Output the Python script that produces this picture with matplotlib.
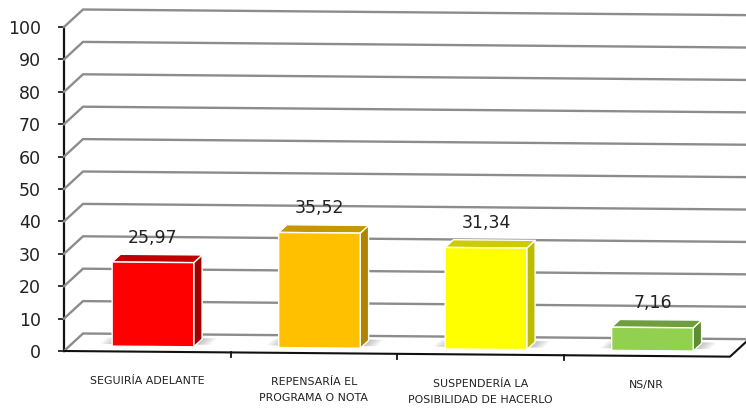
import numpy as np
import matplotlib
matplotlib.use("Agg")
import matplotlib.pyplot as plt
from matplotlib.patches import Polygon
from matplotlib.lines import Line2D
from matplotlib.transforms import IdentityTransform

# --- data -------------------------------------------------------------
categories = [
    "SEGUIRÍA ADELANTE",
    "REPENSARÍA EL\nPROGRAMA O NOTA",
    "SUSPENDERÍA LA\nPOSIBILIDAD DE HACERLO",
    "NS/NR",
]
values = [25.97, 35.52, 31.34, 7.16]
y_ticks = list(range(0, 101, 10))

front_colors = ["#FF0000", "#FFC000", "#FFFF00", "#92D050"]
top_colors = ["#C00000", "#C89600", "#CCCC00", "#6E9E3E"]
side_colors = ["#A00000", "#B08400", "#BBBB00", "#5E8C30"]

# --- figure / front plane ---------------------------------------------
W, H, DPI = 7.46, 4.09, 100
fig = plt.figure(figsize=(W, H), dpi=DPI)
fig.patch.set_facecolor("white")

ax = fig.add_axes([64 / 746, (409 - 351) / 409, 666 / 746, 324 / 409])
ax.set_xlim(0, len(categories))
ax.set_ylim(0, 100)
ax.patch.set_visible(False)
for s in ["top", "right", "bottom"]:
    ax.spines[s].set_visible(False)
ax.spines["left"].set_linewidth(1.6)
ax.spines["left"].set_color("#111111")
ax.set_xticks([])
ax.set_yticks(y_ticks)
ax.tick_params(axis="y", length=4.3, width=1.2, color="#111111", pad=12.5,
               labelsize=12.5, labelcolor="#222222")

# oblique projection: depth shift and slight perspective slope
DEPTH_DX, DEPTH_DY = 19.0, 17.5
SLOPE = 0.0085
x0_disp = ax.transAxes.transform((0, 0))[0]


def to_px(x, v, d=0.0):
    """Data (category position, value, depth 0..1) -> display pixels."""
    px, py = ax.transData.transform((x, v))
    py = py - SLOPE * (px - x0_disp)
    return (px + DEPTH_DX * d, py + DEPTH_DY * d)


ident = IdentityTransform()


def poly(points, **kw):
    p = Polygon([to_px(*pt) for pt in points], closed=True,
                transform=ident, clip_on=False, **kw)
    fig.add_artist(p)
    return p


def line(points, **kw):
    pts = np.array([to_px(*pt) for pt in points])
    ln = Line2D(pts[:, 0], pts[:, 1], transform=ident, clip_on=False, **kw)
    fig.add_artist(ln)
    return ln


n = len(categories)

# walls: left side and back gridlines
for v in y_ticks:
    line([(0, v, 0), (0, v, 1), (n, v, 1)], color="#8C8C8C", lw=1.7,
         zorder=1, solid_joinstyle="miter")

# floor edges and category ticks
line([(0, 0, 0), (n, 0, 0), (n, 0, 1)], color="#111111", lw=1.5, zorder=5)
for i in range(1, n):
    px, py = to_px(i, 0, 0)
    fig.add_artist(Line2D([px, px], [py, py - 5], transform=ident,
                          color="#111111", lw=1.3, zorder=5))

# bars
half_w = 0.245
d0, d1 = 0.30, 0.74
for i, v in enumerate(values):
    xc = i + 0.5
    xl, xr = xc - half_w, xc + half_w

    # soft shadow around the bar base
    for k in range(7):
        g = 0.012 * (k + 1)
        poly([(xl - g, 0, d0 + 0.12), (xr + g, 0, d0 + 0.12),
              (xr + g, 0, d1 + 0.05), (xl - g, 0, d1 + 0.05)],
             facecolor="#606060", edgecolor="none", alpha=0.06, zorder=2)

    edge = dict(edgecolor="white", lw=1.0, joinstyle="round", zorder=3)
    poly([(xr, 0, d0), (xr, 0, d1), (xr, v, d1), (xr, v, d0)],
         facecolor=side_colors[i], **edge)
    poly([(xl, v, d0), (xr, v, d0), (xr, v, d1), (xl, v, d1)],
         facecolor=top_colors[i], **edge)
    poly([(xl, 0, d0), (xr, 0, d0), (xr, v, d0), (xl, v, d0)],
         facecolor=front_colors[i], **edge)

    # value label, centred over the front face
    lx, _ = to_px(xc, v, d0)
    _, ly = to_px(xc, v, d1)
    fig.text(lx / (W * DPI), (ly + 17) / (H * DPI),
             f"{v:.2f}".replace(".", ","), ha="center", va="center",
             fontsize=12.5, color="#222222", zorder=6)

# category labels
for i, lab in enumerate(categories):
    lx, ly = to_px(i + 0.5, 0, 0)
    fig.text(lx / (W * DPI), (ly - 24) / (H * DPI), lab, ha="center",
             va="top", fontsize=7.9, color="#222222", linespacing=1.75,
             zorder=6)

fig.savefig("out.png", dpi=DPI, facecolor="white")
